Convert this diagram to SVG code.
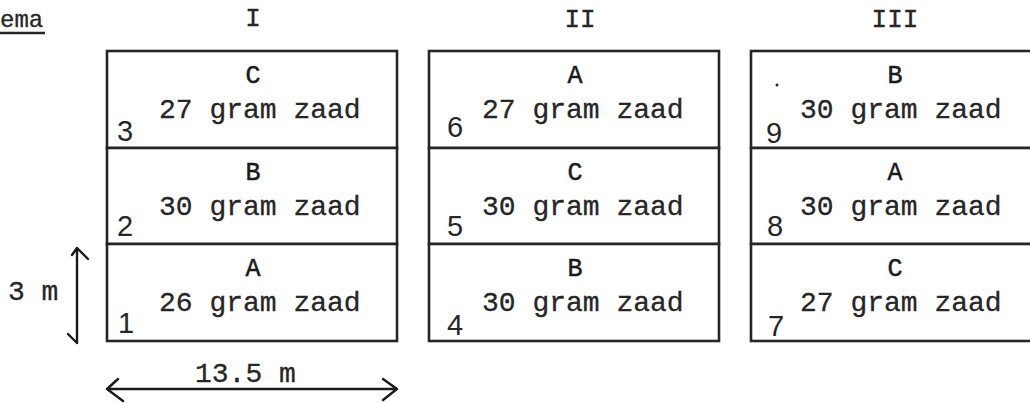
<svg xmlns="http://www.w3.org/2000/svg" width="1030" height="403" viewBox="0 0 1030 403">
<style>
.box{fill:#fff;stroke:#262626;stroke-width:2.6}
.t{font-family:"Liberation Mono","DejaVu Sans Mono",monospace;font-size:28px;fill:#262626;stroke:#262626;stroke-width:0.3}
.l{font-family:"Liberation Mono","DejaVu Sans Mono",monospace;font-size:25px;fill:#1a1a1a;stroke:#1a1a1a;stroke-width:0.5;text-anchor:middle}
.n{font-family:"Liberation Sans","DejaVu Sans",sans-serif;font-size:29px;fill:#262626}
.h{font-family:"Liberation Mono","DejaVu Sans Mono",monospace;font-size:26px;fill:#262626;stroke:#262626;stroke-width:0.3;text-anchor:middle}
.dim{fill:none;stroke:#1a1a1a;stroke-width:2.4;stroke-linecap:round;stroke-linejoin:round}
</style>
<rect width="1030" height="403" fill="#fff"/>
<g id="title">
<text class="t" x="0" y="27" style="font-size:24px">ema</text>
<line x1="0" y1="33" x2="45" y2="33" stroke="#262626" stroke-width="2.5"/>
</g>
<g id="headers">
<text class="h" x="253" y="26">I</text>
<text class="h" x="580" y="27">II</text>
<text class="h" x="895" y="27">III</text>
</g>
<g id="block-I">
<g id="plot-3"><rect class="box" x="107" y="51" width="290" height="97"/>
<text class="l" x="253" y="83">C</text><text class="t" x="159" y="118">27 gram zaad</text><text class="n" x="117" y="141">3</text></g>
<g id="plot-2"><rect class="box" x="107" y="148" width="290" height="96"/>
<text class="l" x="253" y="180">B</text><text class="t" x="159" y="215">30 gram zaad</text><text class="n" x="117" y="236">2</text></g>
<g id="plot-1"><rect class="box" x="107" y="244" width="290" height="97"/>
<text class="l" x="253" y="276">A</text><text class="t" x="159" y="311">26 gram zaad</text><text class="n" x="118" y="333">1</text></g>
</g>
<g id="block-II">
<g id="plot-6"><rect class="box" x="429" y="51" width="290" height="97"/>
<text class="l" x="575" y="83">A</text><text class="t" x="482" y="118">27 gram zaad</text><text class="n" x="447" y="137">6</text></g>
<g id="plot-5"><rect class="box" x="429" y="148" width="290" height="96"/>
<text class="l" x="575" y="180">C</text><text class="t" x="482" y="215">30 gram zaad</text><text class="n" x="447" y="236">5</text></g>
<g id="plot-4"><rect class="box" x="429" y="244" width="290" height="97"/>
<text class="l" x="575" y="276">B</text><text class="t" x="482" y="311">30 gram zaad</text><text class="n" x="447" y="335">4</text></g>
</g>
<g id="block-III">
<g id="plot-9"><rect class="box" x="751" y="51" width="290" height="97"/>
<circle cx="777" cy="85" r="1.5" fill="#262626"/>
<text class="l" x="895" y="83">B</text><text class="t" x="800" y="118">30 gram zaad</text><text class="n" x="766" y="143">9</text></g>
<g id="plot-8"><rect class="box" x="751" y="148" width="290" height="96"/>
<text class="l" x="895" y="180">A</text><text class="t" x="800" y="215">30 gram zaad</text><text class="n" x="767" y="236">8</text></g>
<g id="plot-7"><rect class="box" x="751" y="244" width="290" height="97"/>
<text class="l" x="895" y="276">C</text><text class="t" x="800" y="311">27 gram zaad</text><text class="n" x="768" y="336">7</text></g>
</g>
<g id="connectors">
<path class="dim" d="M77,248 L77,343 M72,255 L77,248 L88,259 M77,343 L68,334"/>
<path class="dim" d="M107,389 L397,389 M118,379 L107,389 L123,401 M383,379 L397,389 L383,400"/>
</g>
<g id="dimension-labels">
<text class="t" x="8" y="300">3 m</text>
<text class="t" x="195" y="382">13.5 m</text>
</g>
</svg>
